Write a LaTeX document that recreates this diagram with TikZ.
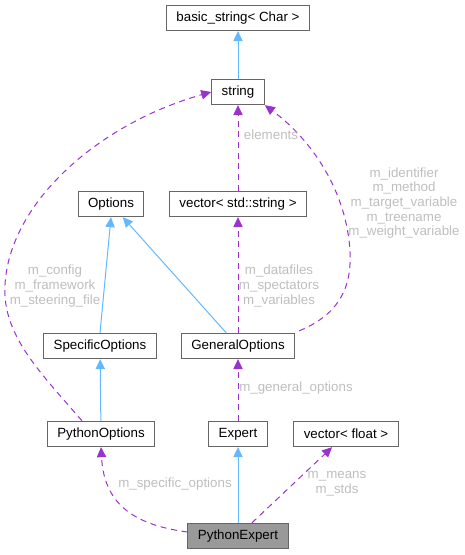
\documentclass[tikz,border=0pt]{standalone}
\usepackage{fontspec}
\setmainfont{Liberation Sans}
\usetikzlibrary{arrows.meta}
\definecolor{inhblue}{HTML}{63B8FF}
\definecolor{usepurple}{HTML}{9A32CD}
\definecolor{boxgray}{HTML}{666666}
\definecolor{labgray}{HTML}{BEBEBE}
\definecolor{mainfill}{HTML}{999999}
\tikzset{
	cls/.style={draw=boxgray,line width=0.75pt,inner xsep=7.5pt,minimum height=19pt,font=\fontsize{10}{12}\selectfont},
	inh/.style={inhblue,line width=0.75pt,-{Triangle[length=7.5pt,width=7pt]}},
	use/.style={usepurple,line width=0.75pt,dash pattern=on 4.5pt off 3.5pt,-{Triangle[length=7.5pt,width=7pt]}},
	lab/.style={text=labgray,align=center,font=\fontsize{10}{11}\selectfont,inner sep=0pt}
}

\begin{document}
\begin{tikzpicture}[x=0.75pt,y=-0.75pt]
	\useasboundingbox (0,0) rectangle (464,555);
	% classes
	\node [cls] (basic) at (238,18) {basic\_string< Char >};
	\node [cls] (str) at (238,92) {string};
	\node [cls] (opts) at (111,204) {Options};
	\node [cls] (vstr) at (238,204) {vector< std::string >};
	\node [cls] (spec) at (100,346) {SpecificOptions};
	\node [cls] (gen) at (238,346) {GeneralOptions};
	\node [cls] (pyopt) at (101,434) {PythonOptions};
	\node [cls] (expert) at (238,434) {Expert};
	\node [cls] (vfloat) at (346,434) {vector< float >};
	\node [cls,fill=mainfill] (pyexp) at (238,536) {PythonExpert};

	% inheritance
	\draw [inh] (str) -- (basic);
	\draw [inh] (spec.north) -- (opts.south);
	\draw [inh] (gen) -- (opts);
	\draw [inh] (pyopt) -- (spec);
	\draw [inh] (pyexp) -- (expert);

	% members
	\draw [use] (vstr) -- (str);
	\draw [use] (gen) -- (vstr);
	\draw [use] (expert) -- (gen);
	\draw [use] (pyexp) -- (vfloat);
	\draw [use] ([yshift=3pt]pyexp.west) .. controls (135,525) and (104,505) .. (pyopt.south);
	\draw [use] (pyopt.north) ++(-19,0) .. controls (40,372) and (2,335) .. (5,285)
		.. controls (9,205) and (95,125) .. (str.west);
	\draw [use] (gen.north east) ++(4,-2) .. controls (335,316) and (352,292) .. (350,252)
		.. controls (347,192) and (312,140) .. (str.south east);

	\node [lab] (l0) at (271,135) {elements};
	\node [lab] (l1) at (55,286) {m\_config\\m\_framework\\m\_steering\_file};
	\node [lab] (l2) at (404,203) {m\_identifier\\m\_method\\m\_target\_variable\\m\_treename\\m\_weight\_variable};
	\node [lab] (l3) at (279,286) {m\_datafiles\\m\_spectators\\m\_variables};
	\node [lab] (l4) at (296,388) {m\_general\_options};
	\node [lab] (l5) at (175,484) {m\_specific\_options};
	\node [lab] (l6) at (337,484) {m\_means\\m\_stds};
\end{tikzpicture}
\end{document}
